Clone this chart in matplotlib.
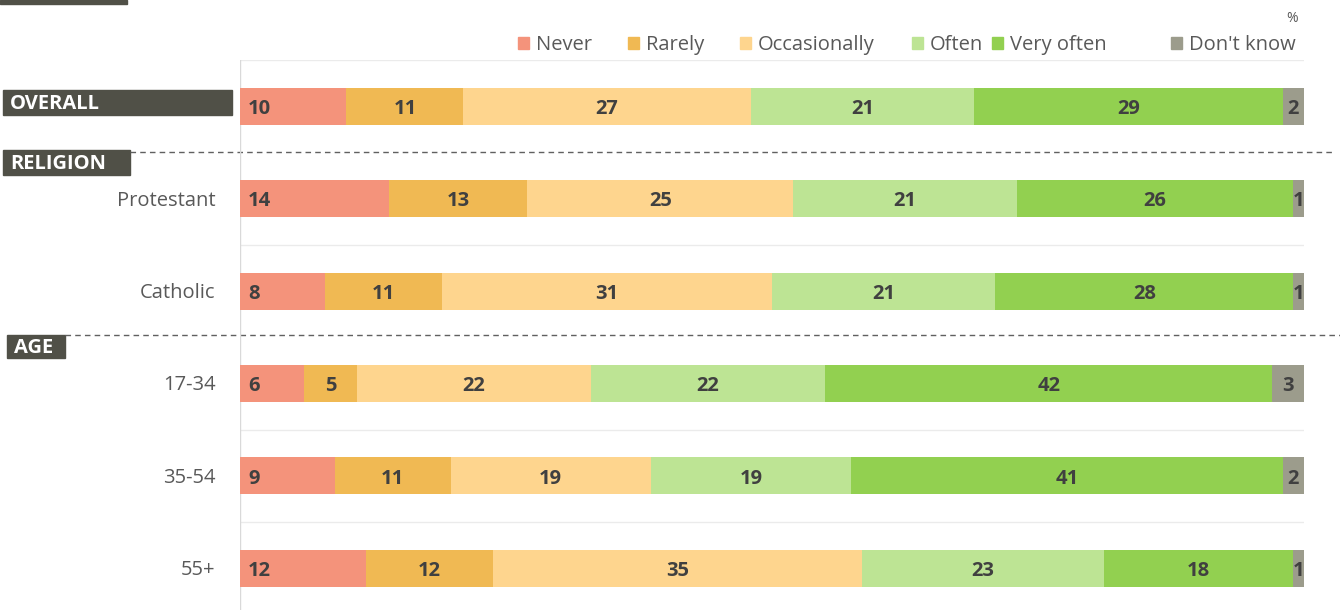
import matplotlib
matplotlib.use("Agg")
import matplotlib.pyplot as plt
from matplotlib.patches import Rectangle
import numpy as np

plt.rcParams['font.family'] = ['Open Sans', 'DejaVu Sans']

# data
rows = ['OVERALL', 'Protestant', 'Catholic', '17-34', '35-54', '55+']
answers = ['Never', 'Rarely', 'Occasionally', 'Often', 'Very often', "Don't know"]
never = [10, 14, 8, 6, 9, 12]
rarely = [11, 13, 11, 5, 11, 12]
occasionally = [27, 25, 31, 22, 19, 35]
often = [21, 21, 21, 22, 19, 23]
very_often = [29, 26, 28, 42, 41, 18]
dont_know = [2, 1, 1, 3, 2, 1]
series = [never, rarely, occasionally, often, very_often, dont_know]
colors = ['#F4937B', '#F0B953', '#FED58E', '#BDE494', '#92D050', '#9C9C8C']

W, H = 1340, 610
fig = plt.figure(figsize=(W / 100, H / 100), dpi=100)

# background axes in pixel coords
bg = fig.add_axes([0, 0, 1, 1])
bg.set_xlim(0, W)
bg.set_ylim(H, 0)
bg.axis('off')

x0, x1, ytop = 240, 1304, 60
ax = fig.add_axes([x0 / W, 0, (x1 - x0) / W, (H - ytop) / H])
ax.set_xlim(0, 100)
ax.set_ylim(5.45, -0.5)
ax.axis('off')

# 100% stacked: rounded values may add to 101
totals = np.sum(np.array(series), axis=0)
y = np.arange(len(rows))
left = np.zeros(len(rows))
for vals, c in zip(series, colors):
    vals = np.array(vals)
    w = vals / totals * 100
    ax.barh(y, w, left=left, height=0.4, color=c, zorder=2)
    for i, v in enumerate(vals):
        if c == colors[0]:
            ax.text(left[i] + 0.75, y[i] + 0.03, str(v), ha='left', va='center',
                    fontsize=14.5, fontweight='bold', color='#404040', zorder=3)
        else:
            ax.text(left[i] + w[i] / 2, y[i] + 0.03, str(v), ha='center', va='center',
                    fontsize=14.5, fontweight='bold', color='#404040', zorder=3)
    left += w

# light gridlines between rows
for k in [-0.5, 1.5, 3.5, 4.5]:
    ax.axhline(k, color='#EBEBEB', lw=1, zorder=1)
ax.axvline(0, color='#D9D9D9', lw=1, zorder=1)

# category labels
for i, r in enumerate(rows):
    if r == 'OVERALL':
        continue
    ax.text(-2.3, i + 0.02, r, ha='right', va='center', fontsize=14.5, color='#595959')

# header boxes
boxes = [('OVERALL', 3, 90, 232, 115), ('RELIGION', 3, 150, 130, 175), ('AGE', 7, 335, 65, 358)]
for name, bx0, by0, bx1, by1 in boxes:
    bg.add_patch(Rectangle((bx0, by0), bx1 - bx0, by1 - by0, color='#505047'))
    bg.text(bx0 + 7, (by0 + by1) / 2 + 1.5, name, ha='left', va='center',
            fontsize=14.5, fontweight='bold', color='white')
bg.add_patch(Rectangle((0, 0), 127, 4, color='#505047'))

# dashed group separators
bg.plot([130, 1335], [152, 152], ls=(0, (4, 3)), color='#606060', lw=1)
bg.plot([65, 1340], [335, 335], ls=(0, (4, 3)), color='#606060', lw=1)

# legend
lx = [518, 628, 740, 912, 992, 1171]
for xx, lab, c in zip(lx, answers, colors):
    bg.add_patch(Rectangle((xx, 37), 11, 12, color=c))
    bg.text(xx + 18, 45, lab, ha='left', va='center', fontsize=14.5, color='#595959')
bg.text(1298, 18, '%', ha='right', va='center', fontsize=10, color='#595959')

fig.savefig('out.png', dpi=100)
